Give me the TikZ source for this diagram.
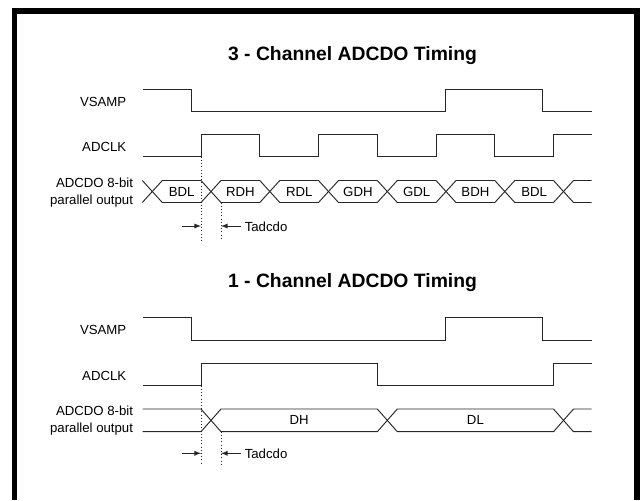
\documentclass[tikz,border=0pt]{standalone}
\usepackage{fontspec}
\setmainfont{Liberation Sans}
\usepackage{tikz}

\begin{document}
\begin{tikzpicture}[x=0.75pt,y=-0.75pt,
    sig/.style={line width=0.7pt,black!85},
    lbl/.style={font=\fontsize{9.9}{11}\selectfont,inner sep=0pt},
    ttl/.style={font=\fontsize{14.5}{17}\selectfont\bfseries,inner sep=0pt}]
    \useasboundingbox (0,0) rectangle (641,500);
    \draw[line width=4.1pt] (14.5,500)--(14.5,11)--(637,11)--(637,500);
    % 3 channel
    \node[ttl] (t3) at (352.5,56) {3 - Channel ADCDO Timing};
    \node[lbl,anchor=east] (vs3) at (126.5,102) {VSAMP};
    \node[lbl,anchor=east] (ck3) at (126.5,147) {ADCLK};
    \node[lbl,anchor=east] (do3a) at (133.3,183) {ADCDO 8-bit};
    \node[lbl,anchor=east] (do3b) at (133.3,201) {parallel output};
    \draw[sig] (142.7,89.3)--(191.3,89.3)--(191.3,111.7)--(445,111.7)--(445,89.3)--(542.7,89.3)--(542.7,111.7)--(591.7,111.7);
    \draw[sig] (142.7,156.7)--(201,156.7)--(201,134.3)--(259.8,134.3)--(259.8,156.7)--(318.5,156.7)--(318.5,134.3)--(377.3,134.3)--(377.3,156.7)--(436,156.7)--(436,134.3)--(494.8,134.3)--(494.8,156.7)--(553.5,156.7)--(553.5,134.3)--(591.7,134.3);
    \draw[sig] (142.3,180.5)--(162.3,202.5)--(201,202.5)--(221,180.5)--(259.8,180.5)--(279.8,202.5)--(318.5,202.5)--(338.5,180.5)--(377.3,180.5)--(397.3,202.5)--(436,202.5)--(456,180.5)--(494.8,180.5)--(514.8,202.5)--(553.5,202.5)--(573.5,180.5)--(591.7,180.5);
    \draw[sig] (142.3,202.5)--(162.3,180.5)--(201,180.5)--(221,202.5)--(259.8,202.5)--(279.8,180.5)--(318.5,180.5)--(338.5,202.5)--(377.3,202.5)--(397.3,180.5)--(436,180.5)--(456,202.5)--(494.8,202.5)--(514.8,180.5)--(553.5,180.5)--(573.5,202.5)--(591.7,202.5);
    \node[lbl] (d1) at (181.7,191.5) {BDL};
    \node[lbl] (d2) at (240.4,191.5) {RDH};
    \node[lbl] (d3) at (299.2,191.5) {RDL};
    \node[lbl] (d4) at (357.9,191.5) {GDH};
    \node[lbl] (d5) at (416.7,191.5) {GDL};
    \node[lbl] (d6) at (475.4,191.5) {BDH};
    \node[lbl] (d7) at (534.2,191.5) {BDL};
    \draw[black!85,dotted] (201,156.7)--(201,240);
    \draw[black!85,dotted] (221,202.5)--(221,240);
    \coordinate (a3l) at (181.7,226);
    \coordinate (a3r) at (240.5,226);
    \coordinate (e3l) at (201,226);
    \coordinate (e3r) at (221,226);
    \draw[sig,-latex] (a3l)--(e3l);
    \draw[sig,-latex] (a3r)--(e3r);
    \node[lbl,anchor=west] (tc3) at (244.5,226.5) {Tadcdo};
    % 1 channel
    \node[ttl] (t1) at (352.5,283) {1 - Channel ADCDO Timing};
    \node[lbl,anchor=east] (vs1) at (126.5,330) {VSAMP};
    \node[lbl,anchor=east] (ck1) at (126.5,376) {ADCLK};
    \node[lbl,anchor=east] (do1a) at (133.3,411) {ADCDO 8-bit};
    \node[lbl,anchor=east] (do1b) at (133.3,429.5) {parallel output};
    \draw[sig] (142.7,317.7)--(191.3,317.7)--(191.3,340)--(445,340)--(445,317.7)--(542.7,317.7)--(542.7,340)--(591.7,340);
    \draw[sig] (142.7,385.7)--(201,385.7)--(201,363.3)--(377.3,363.3)--(377.3,385.7)--(553.5,385.7)--(553.5,363.3)--(591.7,363.3);
    \draw[sig] (142.7,409)--(201,409)--(221,431.7)--(377.3,431.7)--(397.3,409)--(553.5,409)--(573.5,431.7)--(591.7,431.7);
    \draw[sig] (142.7,431.7)--(201,431.7)--(221,409)--(377.3,409)--(397.3,431.7)--(553.5,431.7)--(573.5,409)--(591.7,409);
    \node[lbl] (dh) at (299.2,420.3) {DH};
    \node[lbl] (dl) at (475.4,420.3) {DL};
    \draw[black!85,dotted] (201,385.7)--(201,465);
    \draw[black!85,dotted] (221,431.7)--(221,465);
    \coordinate (a1l) at (181.7,453.3);
    \coordinate (a1r) at (240.5,453.3);
    \coordinate (e1l) at (201,453.3);
    \coordinate (e1r) at (221,453.3);
    \draw[sig,-latex] (a1l)--(e1l);
    \draw[sig,-latex] (a1r)--(e1r);
    \node[lbl,anchor=west] (tc1) at (244.5,453.8) {Tadcdo};
\end{tikzpicture}
\end{document}
